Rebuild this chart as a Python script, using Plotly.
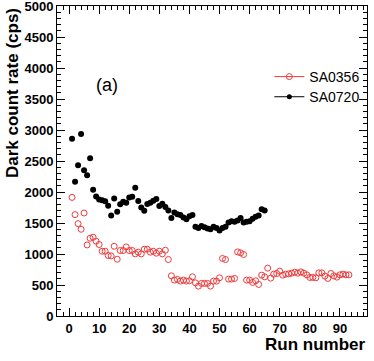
import plotly.graph_objects as go

# SA0356 (red, open circles)
runs_sa0356 = list(range(1, 94))
rate_sa0356 = [
    1913, 1635, 1490, 1399, 1661, 1146, 1254, 1270, 1206, 1153,
    1045, 1045, 976, 969, 1125, 916, 1056, 1056, 1114, 1056,
    1056, 1002, 1029, 1002, 1077, 1077, 1029, 1045, 1013, 1045,
    1002, 1061, 911, 648, 579, 590, 563, 579, 563, 568,
    632, 535, 482, 526, 526, 526, 482, 563, 563, 616,
    928, 911, 595, 595, 606, 1034, 1018, 992, 579, 579,
    541, 568, 509, 659, 632, 772, 611, 675, 686, 723,
    659, 675, 680, 691, 707, 691, 712, 691, 664, 622,
    622, 616, 696, 696, 643, 606, 686, 648, 627, 664,
    675, 664, 664,
]

# SA0720 (black, filled circles)
runs_sa0720 = list(range(1, 66))
rate_sa0720 = [
    2857, 2166, 2432, 2937, 2352, 2272, 2545, 2037, 1929, 1881,
    1865, 1849, 1780, 1619, 1897, 1683, 1801, 1844, 1828, 1913,
    1924, 2069, 1854, 1748, 1699, 1805, 1828, 1860, 1886, 1773,
    1812, 1760, 1700, 1580, 1670, 1640, 1630, 1590, 1560, 1610,
    1630, 1440, 1420, 1450, 1430, 1410, 1400, 1440, 1420, 1380,
    1420, 1440, 1510, 1530, 1520, 1540, 1580, 1510, 1520, 1530,
    1570, 1600, 1620, 1720, 1700,
]

RED = "#f03a3a"
FONT = "Liberation Sans"

fig = go.Figure()
fig.add_trace(go.Scatter(
    x=runs_sa0356, y=rate_sa0356, mode="markers", showlegend=False,
    marker=dict(symbol="circle-open", size=6, color=RED, line=dict(width=1, color=RED))))
fig.add_trace(go.Scatter(
    x=runs_sa0720, y=rate_sa0720, mode="markers", showlegend=False,
    marker=dict(symbol="circle", size=6, color="black")))
# legend entries (ROOT "lp" style: line + marker), one legend box per row
fig.add_trace(go.Scatter(
    x=[None], y=[None], mode="lines+markers", name="SA0356", legend="legend",
    line=dict(color=RED, width=1),
    marker=dict(symbol="circle-open", size=6, color=RED, line=dict(width=1, color=RED))))
fig.add_trace(go.Scatter(
    x=[None], y=[None], mode="lines+markers", name="SA0720", legend="legend2",
    line=dict(color="black", width=1),
    marker=dict(symbol="circle", size=5, color="black")))

axis_common = dict(
    showline=True, linecolor="black", linewidth=1, mirror="ticks",
    ticks="inside", ticklen=8, tickcolor="black", showgrid=False, zeroline=False,
    automargin=False, ticklabeloverflow="allow",
    tickfont=dict(family=FONT, size=13, color="black", weight="bold"),
)
fig.update_xaxes(range=[-4, 99], tickvals=list(range(0, 100, 10)),
                 minor=dict(dtick=2, ticks="inside", ticklen=4, tickcolor="black"),
                 **axis_common)
fig.update_yaxes(range=[0, 5000], tickvals=list(range(0, 5001, 500)),
                 minor=dict(dtick=100, ticks="inside", ticklen=4, tickcolor="black"),
                 **axis_common)

fig.add_annotation(xref="paper", yref="paper", x=1.0, y=-0.093, xanchor="right", yanchor="middle",
                   text="Run number", showarrow=False,
                   font=dict(family=FONT, size=17, color="black", weight="bold"))
fig.add_annotation(xref="paper", yref="paper", x=-0.145, y=1.0, xanchor="center", yanchor="top",
                   text="Dark count rate (cps)", textangle=-90, showarrow=False,
                   font=dict(family=FONT, size=17, color="black", weight="bold"))
fig.add_annotation(xref="paper", yref="paper", x=0.16, y=0.745, xanchor="center", yanchor="middle",
                   text="(a)", showarrow=False,
                   font=dict(family=FONT, size=18, color="black"))

leg = dict(xanchor="left", yanchor="middle", bgcolor="rgba(0,0,0,0)", itemwidth=30,
           font=dict(family=FONT, size=14, color="black"))
fig.update_layout(
    width=374, height=361,
    margin=dict(l=57, r=7, t=6, b=45, autoexpand=False),
    paper_bgcolor="white", plot_bgcolor="white",
    font=dict(family=FONT, color="black"),
    legend=dict(x=0.685, y=0.771, **leg),
    legend2=dict(x=0.685, y=0.706, **leg),
)

fig.write_html("out.html", config={"displayModeBar": False},
               post_script="document.body.style.margin='0';")
